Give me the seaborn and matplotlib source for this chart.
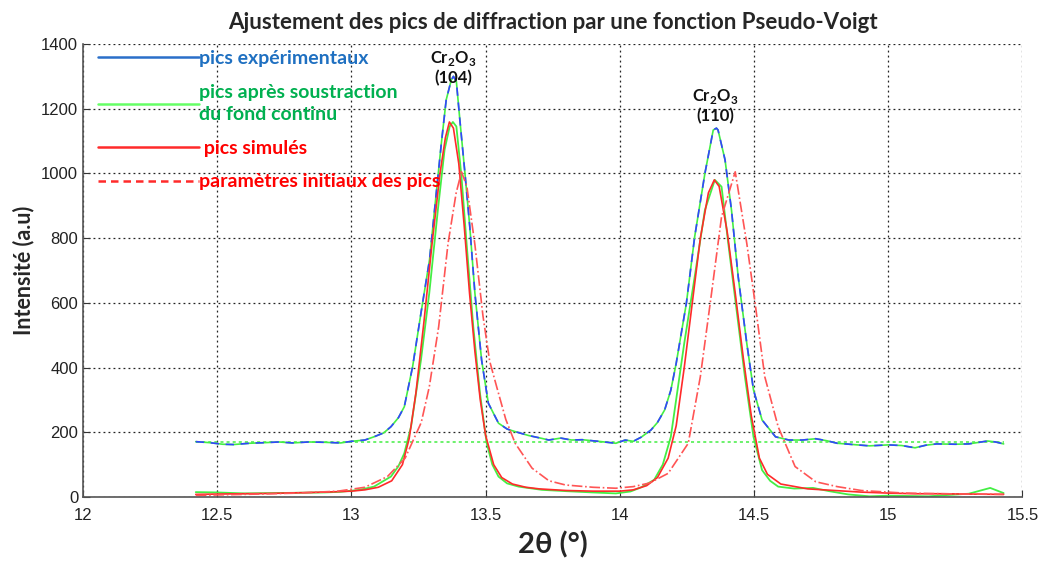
import matplotlib
matplotlib.use("Agg")
import matplotlib.pyplot as plt
import seaborn as sns
import pandas as pd
from matplotlib.lines import Line2D

# ---------------- data ----------------
exp_x = [12.42, 12.47, 12.52, 12.56, 12.62, 12.68, 12.73, 12.78, 12.84, 12.90, 12.96, 13.00,
         13.05, 13.084, 13.12, 13.147, 13.175, 13.197, 13.228, 13.259, 13.291, 13.316, 13.335,
         13.353, 13.372, 13.38, 13.391, 13.404, 13.423, 13.441, 13.46, 13.485, 13.51, 13.548,
         13.58, 13.61, 13.66, 13.71, 13.735, 13.78, 13.82, 13.86, 13.92, 13.985, 14.02, 14.05,
         14.08, 14.116, 14.14, 14.167, 14.19, 14.21, 14.248, 14.279, 14.317, 14.348, 14.36,
         14.366, 14.392, 14.416, 14.441, 14.473, 14.498, 14.53, 14.58, 14.63, 14.68, 14.73,
         14.77, 14.81, 14.87, 14.93, 15.00, 15.05, 15.10, 15.14, 15.18, 15.25, 15.30, 15.37,
         15.40, 15.43]
exp_y = [171, 168, 163, 162, 166, 168, 170, 167, 170, 169, 167, 172,
         176, 186, 198, 217, 245, 279, 403, 568, 733, 939, 1093,
         1227, 1289, 1300, 1284, 1165, 1000, 835, 630, 423, 290, 228,
         210, 202, 190, 181, 176, 182, 176, 177, 172, 166, 176, 172,
         185, 207, 230, 269, 330, 413, 599, 805, 1000, 1134, 1140,
         1134, 1042, 887, 681, 475, 331, 238, 186, 176, 176, 180,
         174, 166, 162, 158, 161, 159, 152, 160, 164, 163, 164, 173,
         170, 164]

sub_x = [12.42, 12.5, 12.6, 12.7, 12.8, 12.9, 12.96, 13.03, 13.084, 13.147, 13.175, 13.197,
         13.222, 13.259, 13.29, 13.322, 13.347, 13.366, 13.378, 13.391, 13.41, 13.429, 13.454,
         13.479, 13.504, 13.525, 13.548, 13.58, 13.623, 13.71, 13.8, 13.9, 13.985, 14.04, 14.08,
         14.128, 14.16, 14.19, 14.24, 14.279, 14.317, 14.354, 14.379, 14.404, 14.435, 14.466,
         14.498, 14.53, 14.56, 14.59, 14.65, 14.72, 14.78, 14.85, 14.93, 15.0, 15.08, 15.15,
         15.22, 15.3, 15.38, 15.43]
sub_y = [15, 14, 11, 12, 13, 14, 16, 22, 32, 63, 95, 135,
         217, 423, 630, 887, 1073, 1145, 1159, 1145, 990, 784, 526,
         320, 166, 100, 63, 42, 32, 22, 18, 14, 11, 17, 30,
         53, 100, 186, 475, 681, 887, 980, 959, 784, 578, 372,
         186, 83, 50, 32, 26, 28, 18, 8, 2, 4, 3, 2,
         6, 10, 28, 12]

sim_x = [12.42, 12.5, 12.6, 12.7, 12.8, 12.9, 13.0, 13.05, 13.1, 13.15, 13.19, 13.215, 13.24,
         13.27, 13.30, 13.33, 13.35, 13.365, 13.38, 13.40, 13.42, 13.44, 13.46, 13.48, 13.50,
         13.53, 13.56, 13.6, 13.65, 13.7, 13.8, 13.9, 14.0, 14.05, 14.1, 14.14, 14.18, 14.21,
         14.24, 14.27, 14.30, 14.33, 14.352, 14.37, 14.40, 14.43, 14.46, 14.49, 14.52, 14.55,
         14.6, 14.7, 14.8, 14.9, 15.0, 15.1, 15.2, 15.3, 15.43]
sim_y = [8, 9, 10, 11, 13, 15, 18, 22, 30, 50, 100, 180, 320,
         540, 780, 1000, 1110, 1159, 1140, 1030, 840, 630, 450, 300, 190,
         100, 60, 40, 30, 25, 20, 18, 18, 22, 35, 60, 120, 220,
         400, 600, 800, 940, 980, 960, 820, 630, 430, 250, 120, 70,
         40, 25, 20, 15, 12, 10, 10, 9, 8]

ini_x = [12.42, 12.6, 12.8, 12.95, 13.05, 13.134, 13.2, 13.26, 13.29, 13.325, 13.36, 13.39,
         13.41, 13.43, 13.46, 13.49, 13.515, 13.541, 13.575, 13.61, 13.673, 13.736, 13.798,
         13.9, 13.985, 14.05, 14.11, 14.18, 14.255, 14.30, 14.34, 14.379, 14.43, 14.473,
         14.504, 14.54, 14.59, 14.653, 14.73, 14.81, 14.9, 15.06, 15.2, 15.43]
ini_y = [5, 8, 12, 18, 30, 63, 120, 230, 340, 526, 784, 939,
         1005, 960, 780, 560, 420, 341, 240, 166, 89, 50, 37,
         30, 27, 32, 43, 73, 166, 372, 619, 866, 1005, 784,
         599, 372, 217, 94, 47, 32, 20, 12, 10, 8]

bg_x = [12.42, 15.43]
bg_y = [170, 170]

peak_labels = ["(104)", "(110)"]
peak_pos = [13.38, 14.355]
peak_top = [1268, 1152]

legend_labels = ["pics expérimentaux",
                 "pics après soustraction\ndu fond continu",
                 " pics simulés",
                 "paramètres initiaux des pics"]

x_ticks = [12, 12.5, 13, 13.5, 14, 14.5, 15, 15.5]
x_tick_labels = ["12", "12.5", "13", "13.5", "14", "14.5", "15", "15.5"]
y_ticks = [0, 200, 400, 600, 800, 1000, 1200, 1400]

# ---------------- styling ----------------
sns.set_style("ticks")
plt.rcParams['font.family'] = ['Lato', 'DejaVu Sans']
plt.rcParams['mathtext.fontset'] = 'custom'
plt.rcParams['mathtext.rm'] = 'Lato'
plt.rcParams['mathtext.bf'] = 'Lato:bold'

GREEN = '#44ee44'
BLUE = '#3344ff'
RED = '#ff2a2a'
RED_LIGHT = '#ff5555'

fig = plt.figure(figsize=(10.42, 5.62), dpi=100)
ax = fig.add_axes([0.0797, 0.1157, 0.9015, 0.806])

# background line
sns.lineplot(x=bg_x, y=bg_y, ax=ax, color=GREEN, linestyle=(0, (2, 2)), lw=1.1,
             sort=False, estimator=None)
# experimental: green under blue dashes
sns.lineplot(x=exp_x, y=exp_y, ax=ax, color=GREEN, lw=1.2, sort=False, estimator=None)
sns.lineplot(x=exp_x, y=exp_y, ax=ax, color=BLUE, lw=1.2, linestyle=(0, (5, 4)),
             sort=False, estimator=None)
# subtracted
sns.lineplot(x=sub_x, y=sub_y, ax=ax, color=GREEN, lw=1.3, sort=False, estimator=None)
# simulated
sns.lineplot(x=sim_x, y=sim_y, ax=ax, color=RED, lw=1.2, sort=False, estimator=None)
# initial parameters
sns.lineplot(x=ini_x, y=ini_y, ax=ax, color=RED_LIGHT, lw=1.2, linestyle='-.',
             sort=False, estimator=None)

ax.set_xlim(12, 15.5)
ax.set_ylim(0, 1400)
ax.set_xticks(x_ticks)
ax.set_xticklabels(x_tick_labels)
ax.set_yticks(y_ticks)
ax.tick_params(direction='in', length=5, color='#333333', labelsize=12,
               labelcolor='#222222')
ax.tick_params(axis='x', pad=8)
for lab in ax.get_xticklabels() + ax.get_yticklabels():
    lab.set_family(['Liberation Sans', 'DejaVu Sans'])
ax.grid(True, color='#222222', linestyle=(0, (1.5, 2.5)), lw=0.9)
for s in ['top', 'right']:
    ax.spines[s].set_visible(False)
for s in ['left', 'bottom']:
    ax.spines[s].set_color('#555555')
    ax.spines[s].set_linewidth(1.2)

ax.set_xlabel("2θ (°)", fontsize=21, fontweight='bold', labelpad=6)
ax.set_ylabel("Intensité (a.u)", fontsize=15.5, fontweight='bold', labelpad=5)
ax.set_title("Ajustement des pics de diffraction par une fonction Pseudo-Voigt",
             fontsize=16, fontweight='bold', pad=11)

for lbl, xp, yp in zip(peak_labels, peak_pos, peak_top):
    ax.text(xp, yp, r"Cr$_\mathregular{2}$O$_\mathregular{3}$" + "\n" + lbl,
            ha='center', va='bottom', fontsize=12, fontweight='bold',
            linespacing=1.15, color='#111111')

handles = [Line2D([], [], color='#2a6fc9', lw=1.8),
           Line2D([], [], color='#66ff66', lw=1.8),
           Line2D([], [], color=RED, lw=1.8),
           Line2D([], [], color=RED, lw=1.8, linestyle=(0, (3, 2)))]
leg = ax.legend(handles, legend_labels, loc='upper left', bbox_to_anchor=(0.012, 0.995),
                frameon=False, handlelength=5.2, handletextpad=0.0, labelspacing=0.85,
                borderpad=0.2, borderaxespad=0,
                prop={'family': ['Lato', 'DejaVu Sans'], 'weight': 'bold', 'size': 14},
                labelcolor=['#1f70c1', '#00b050', '#ff0000', '#ff0000'])
leg.get_texts()[1].set_linespacing(1.4)

fig.savefig("out.png", dpi=100)
